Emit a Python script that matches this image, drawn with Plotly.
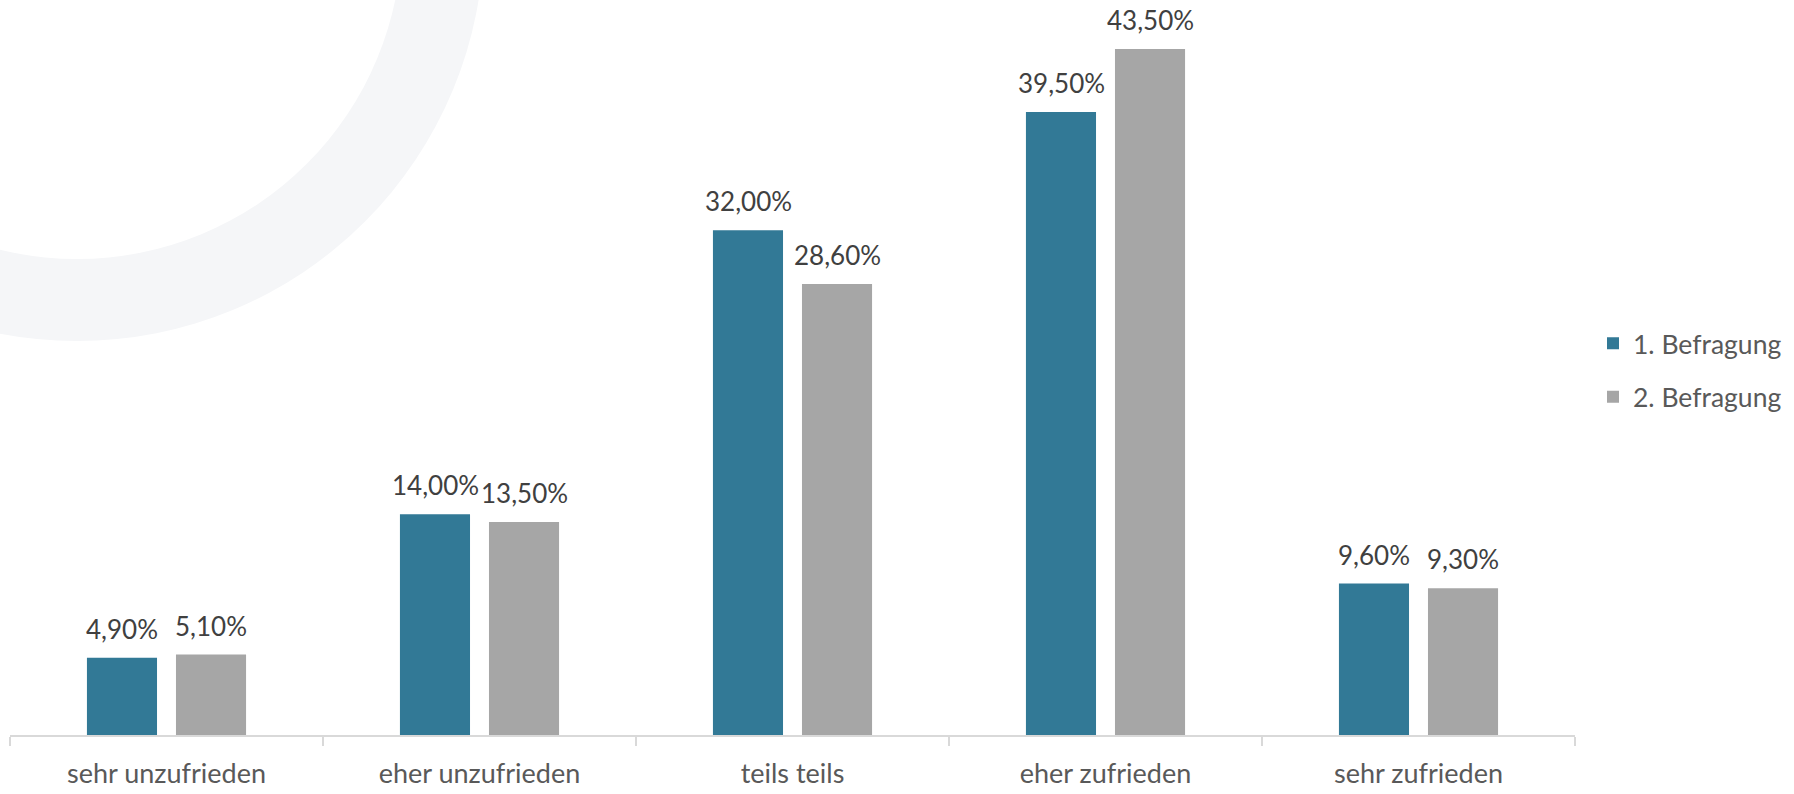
import plotly.graph_objects as go

categories = ["sehr unzufrieden", "eher unzufrieden", "teils teils", "eher zufrieden", "sehr zufrieden"]
befragung1 = [4.9, 14.0, 32.0, 39.5, 9.6]
befragung2 = [5.1, 13.5, 28.6, 43.5, 9.3]
series_names = ["1. Befragung", "2. Befragung"]
colors = ["#327996", "#A6A6A6"]

W, H = 1794, 794
L, R, T, B = 10, 219, 10, 59
PW, PH = W - L - R, H - T - B
YMAX = 45.97

FONT = "Lato"
AXIS_COLOR = "#595959"
LABEL_COLOR = "#404040"


def fmt(v):
    return f"{v:.2f}".replace(".", ",") + "%"


def px_x(p):
    return (p - L) / PW


def px_y(p):
    return (H - B - p) / PH


fig = go.Figure()
for i, (name, vals) in enumerate(zip(series_names, [befragung1, befragung2])):
    fig.add_trace(go.Bar(
        x=categories, y=vals, name=name,
        marker=dict(color=colors[i], line=dict(width=0)),
        legendgroup=name,
        hoverinfo="skip",
    ))

# data labels as annotations
offsets = [-44.5, 44.5]
for i, vals in enumerate([befragung1, befragung2]):
    for c, v in zip(categories, vals):
        fig.add_annotation(
            x=c, y=v, xref="x", yref="y", text=fmt(v), showarrow=False,
            xshift=offsets[i], yanchor="bottom", yshift=11,
            font=dict(family=FONT, size=26, color=LABEL_COLOR),
        )

# decorative background ring
cx, cy, ro, ri = 77, -66, 407, 325
fig.add_shape(type="circle", xref="paper", yref="paper", layer="below",
              x0=px_x(cx - ro), x1=px_x(cx + ro), y0=px_y(cy + ro), y1=px_y(cy - ro),
              fillcolor="#F5F6F8", line=dict(width=0))
fig.add_shape(type="circle", xref="paper", yref="paper", layer="below",
              x0=px_x(cx - ri), x1=px_x(cx + ri), y0=px_y(cy + ri), y1=px_y(cy - ri),
              fillcolor="#FFFFFF", line=dict(width=0))

fig.update_layout(
    width=W, height=H,
    margin=dict(l=L, r=R, t=T, b=B, pad=0, autoexpand=False),
    paper_bgcolor="white", plot_bgcolor="rgba(0,0,0,0)",
    barmode="group", bargap=0.431, bargroupgap=0.213,
    font=dict(family=FONT, size=27, color=AXIS_COLOR),
    showlegend=True,
    legend=dict(x=px_x(1593), xanchor="left", y=px_y(370), yanchor="middle",
                font=dict(family=FONT, size=26.5, color=AXIS_COLOR),
                tracegroupgap=16, bgcolor="rgba(0,0,0,0)"),
    xaxis=dict(showline=True, linecolor="#D9D9D9", linewidth=1.5, automargin=False,
               ticks="outside", tickson="boundaries", ticklen=9, tickcolor="#D9D9D9",
               tickwidth=1.5, showgrid=False, zeroline=False, ticklabelstandoff=14,
               tickfont=dict(family=FONT, size=27, color=AXIS_COLOR)),
    yaxis=dict(range=[0, YMAX], visible=False, showgrid=False, zeroline=False, automargin=False),
)

fig.write_html("out.html", config={"displayModeBar": False},
               post_script="document.body.style.margin='0';document.body.style.overflow='hidden';")
